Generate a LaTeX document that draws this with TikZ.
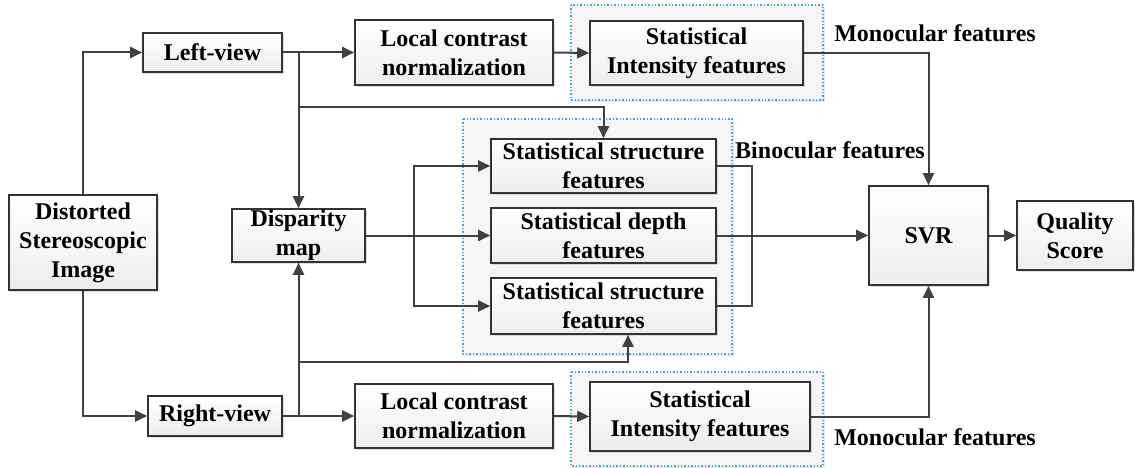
\documentclass[tikz,border=0pt]{standalone}
\usepackage{fontspec}
\setmainfont{Liberation Serif}
\usetikzlibrary{arrows.meta,shadows,calc}
\definecolor{ln}{HTML}{404040}
\definecolor{dotblue}{HTML}{5B9BD5}
\tikzset{
  box/.style={draw=ln!80!black, line width=1.6pt, top color=white, bottom color=gray!14,
    drop shadow={shadow xshift=2pt, shadow yshift=-2pt, opacity=0.25, fill=gray},
    align=center, inner sep=0pt, font=\bfseries\fontsize{24}{29}\selectfont},
  grp/.style={draw=dotblue, line width=1.4pt, dotted, fill=gray!8,
    drop shadow={shadow xshift=2pt, shadow yshift=-2pt, opacity=0.2, fill=gray}},
  arr/.style={draw=ln, line width=2pt, -{Triangle[length=12pt,width=11pt]}},
  wire/.style={draw=ln, line width=2pt},
  lbl/.style={font=\bfseries\fontsize{24}{29}\selectfont, inner sep=0pt}
}
\newcommand{\bx}[6]{\node[box, minimum width={(#4-#2)*1pt}, minimum height={(#5-#3)*1pt}] (#1) at ({(#2+#4)/2},{(#3+#5)/2}) {#6};}
\begin{document}
\begin{tikzpicture}[x=1pt,y=-1pt]
\useasboundingbox (0,0) rectangle (1135,468);
% groups
\draw[grp] (571,5) rectangle (823,100);
\draw[grp] (463,119) rectangle (732,354);
\draw[grp] (571,372) rectangle (823,466);
% boxes
\bx{dist}{9}{195}{157}{290}{Distorted\\Stereoscopic\\Image}
\bx{lv}{143}{33}{282}{72}{Left-view}
\bx{rv}{148}{396}{282}{436}{Right-view}
\bx{lcn1}{355}{20}{553}{85}{Local contrast\\normalization}
\bx{lcn2}{355}{384}{553}{448}{Local contrast\\normalization}
\bx{si1}{590}{21}{803}{85}{Statistical\\Intensity features}
\bx{si2}{590}{382}{810}{451}{Statistical\\Intensity features}
\bx{dm}{232}{209}{365}{262}{Disparity\\map}
\bx{ss1}{491}{139}{716}{193}{Statistical structure\\features}
\bx{sd}{491}{208}{716}{263}{Statistical depth\\features}
\bx{ss2}{491}{278}{716}{334}{Statistical structure\\features}
\bx{svr}{869}{186}{988}{285}{SVR}
\bx{qs}{1017}{201}{1133}{270}{Quality\\Score}
% labels
\node[lbl] (mono1) at (935,33) {Monocular features};
\node[lbl] (mono2) at (935,437) {Monocular features};
\node[lbl] (bino) at (830,150) {Binocular features};
% connectors
\draw[arr] (dist.north) |- (lv.west);
\draw[arr] (dist.south) |- (rv.west);
\draw[arr] (lv.east) -- (lcn1.west);
\draw[arr] (rv.east) -- (lcn2.west);
\draw[arr] (dm.north |- lv.east) -- (dm.north);
\draw[arr] (dm.south |- rv.east) -- (dm.south);
\draw[arr] (dm.north |- 0,107) -| (ss1.north);
\draw[arr] (dm.south |- 0,362) -| (ss2.south -| 628,0);
\draw[arr] (lcn1.east) -- (si1.west);
\draw[arr] (lcn2.east) -- (si2.west);
\draw[arr] (dm.east) -- (sd.west);
\draw[arr] (dm.east -| 414,0) |- (ss1.west);
\draw[arr] (dm.east -| 414,0) |- (ss2.west);
\draw[wire] (ss1.east) -| (ss2.east -| 752,0) -- (ss2.east);
\draw[arr] (sd.east) -- (svr.west);
\draw[arr] (si1.east) -| (svr.north);
\draw[arr] (si2.east) -| (svr.south);
\draw[arr] (svr.east) -- (qs.west);
\end{tikzpicture}
\end{document}
